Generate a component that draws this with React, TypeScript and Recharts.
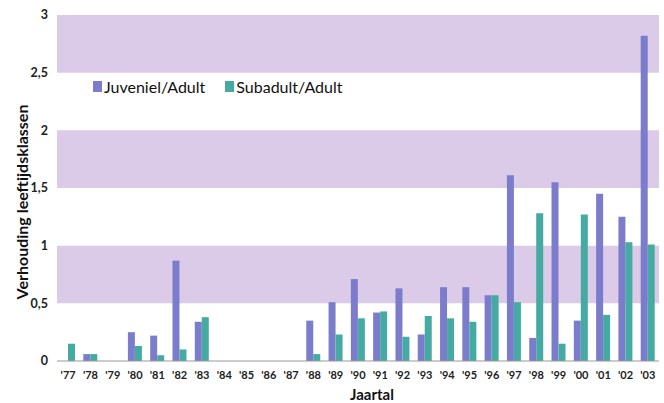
import React from 'react';
import { BarChart, Bar, XAxis, YAxis, ReferenceArea, Label } from 'recharts';

const years = ["'77","'78","'79","'80","'81","'82","'83","'84","'85","'86","'87","'88","'89","'90","'91","'92","'93","'94","'95","'96","'97","'98","'99","'00","'01","'02","'03"];
const juveniel = [0, 0.06, 0, 0.25, 0.22, 0.87, 0.34, 0, 0, 0, 0, 0.35, 0.51, 0.71, 0.42, 0.63, 0.23, 0.64, 0.64, 0.57, 1.61, 0.2, 1.55, 0.35, 1.45, 1.25, 2.82];
const subadult = [0.15, 0.06, 0, 0.13, 0.05, 0.1, 0.38, 0, 0, 0, 0, 0.06, 0.23, 0.37, 0.43, 0.21, 0.39, 0.37, 0.34, 0.57, 0.51, 1.28, 0.15, 1.27, 0.4, 1.03, 1.01];
const yTicks = [0, 0.5, 1, 1.5, 2, 2.5, 3];
const bands = [[0.5, 1], [1.5, 2], [2.5, 3]];
const seriesNames = ['Juveniel/Adult', 'Subadult/Adult'];

const data = years.map((y, i) => ({ year: y, juv: juveniel[i], sub: subadult[i] }));

const FONT = 'Lato, "Open Sans", sans-serif';
const JUV = '#7b7dcc';
const SUB = '#45aba2';
const BAND = '#dccbe8';

const YLabel = () => (
  <text x={21} y={202} transform="rotate(-90 21 202)" textAnchor="middle" dominantBaseline="central"
    style={{ fontFamily: FONT, fontSize: 16, fontWeight: 700, fill: '#111' }}>
    Verhouding leeftijdsklassen
  </text>
);

export default function App() {
  return (
    <div style={{ position: 'absolute', left: 0, top: 0, width: 664, height: 403, background: '#fff' }}>
      <BarChart width={664} height={403} data={data} margin={{ top: 15, right: 5, bottom: 12, left: 12 }} barGap={0} barSize={7}>
        {bands.map((b, i) => (
          <ReferenceArea key={i} y1={b[0]} y2={b[1]} fill={BAND} fillOpacity={1} stroke="none" ifOverflow="visible" />
        ))}
        <XAxis
          dataKey="year"
          height={30}
          tickLine={false}
          axisLine={{ stroke: '#999', strokeWidth: 1 }}
          tick={{ fontFamily: FONT, fontSize: 11, fontWeight: 700, fill: '#222' }}
          tickMargin={4}
          interval={0}
        >
          <Label value="Jaartal" position="insideBottom" offset={-9} dx={14} style={{ fontFamily: FONT, fontSize: 15, fontWeight: 700, fill: '#111' }} />
        </XAxis>
        <YAxis
          width={45}
          domain={[0, 3]}
          ticks={yTicks}
          tickLine={false}
          tickSize={0}
          axisLine={false}
          tickMargin={9}
          tickFormatter={(v: number) => String(v).replace('.', ',')}
          tick={{ fontFamily: FONT, fontSize: 12.5, fontWeight: 700, fill: '#222' }}
        >
          <Label content={<YLabel />} />
        </YAxis>
        <Bar dataKey="juv" name={seriesNames[0]} fill={JUV} isAnimationActive={false} />
        <Bar dataKey="sub" name={seriesNames[1]} fill={SUB} isAnimationActive={false} />
      </BarChart>
      <div style={{ position: 'absolute', left: 93, top: 77, display: 'flex', alignItems: 'center', fontFamily: FONT, fontSize: 16, color: '#111', whiteSpace: 'nowrap' }}>
        <span style={{ display: 'inline-block', width: 9, height: 11, background: JUV, marginRight: 2 }} />
        <span style={{ marginRight: 20 }}>{seriesNames[0]}</span>
        <span style={{ display: 'inline-block', width: 9, height: 11, background: SUB, marginRight: 2 }} />
        <span>{seriesNames[1]}</span>
      </div>
    </div>
  );
}
